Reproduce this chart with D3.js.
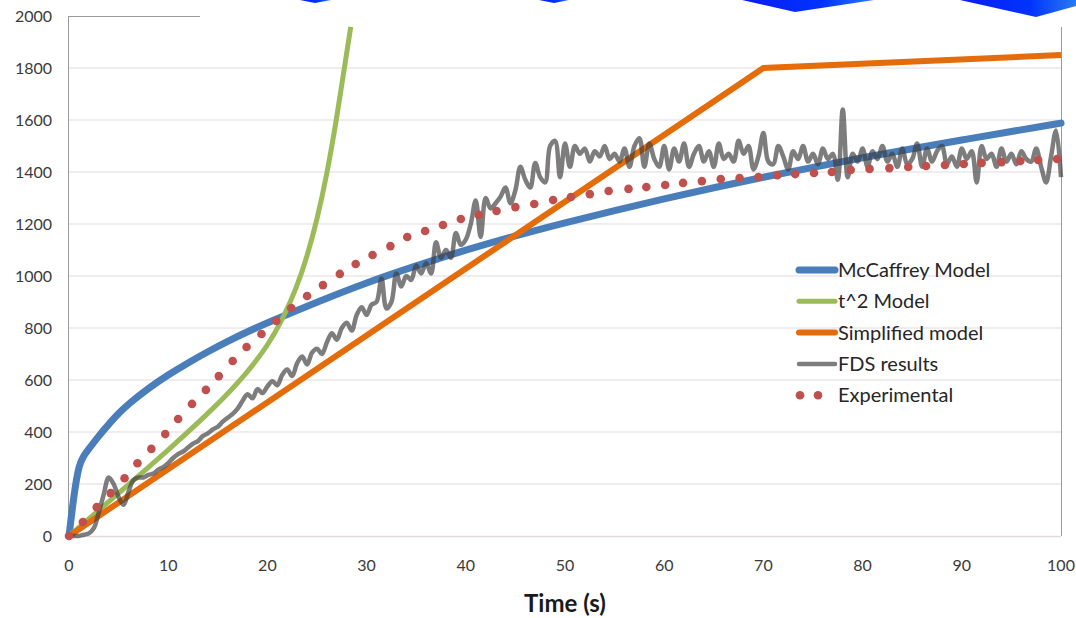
<!DOCTYPE html>
<html>
<head>
<meta charset="utf-8">
<script src="https://cdn.jsdelivr.net/npm/d3@7"></script>
<style>
  body { margin: 0; background: #fff; }
  svg { display: block; }
</style>
</head>
<body>
<div id="chart"></div>
<script>
// data
var xTicks = [0, 10, 20, 30, 40, 50, 60, 70, 80, 90, 100],
    yTicks = [0, 200, 400, 600, 800, 1000, 1200, 1400, 1600, 1800, 2000];

var mcTime = [0, 0.5, 1, 1.5, 2, 3, 4, 5, 6, 8, 10, 12, 14, 16, 18, 20, 25, 30, 35, 40, 45, 50, 55, 60, 65, 70, 75, 80, 85, 90, 95, 100],
    mcHrr  = [0, 160, 275, 310, 335, 385, 430, 472, 508, 568, 620, 666, 709, 749, 786, 820, 900, 975, 1040, 1100, 1155, 1205, 1252, 1297, 1340, 1380, 1418, 1455, 1490, 1523, 1556, 1588];

var t2Time = [0, 5, 10, 15, 18, 20, 21.5, 23, 24, 25, 26, 27, 27.8, 28.4],
    t2Hrr  = [0, 165, 330, 505, 630, 730, 830, 960, 1075, 1215, 1390, 1610, 1810, 1958];

var simpTime = [0, 70, 100],
    simpHrr  = [0, 1800, 1850];

var fdsTime = d3.range(0, 100.5, 0.5),
    fdsHrr = [
      0, 0, 0, 5, 10, 30, 90, 160, 225, 200, 150, 120, 170, 215, 225, 225, 235, 240, 255, 265,
      280, 300, 315, 325, 340, 355, 365, 385, 395, 410, 420, 440, 455, 470, 490, 520, 545, 530, 565, 550,
      575, 595, 580, 620, 640, 615, 665, 690, 660, 705, 720, 700, 745, 780, 755, 800, 820, 790, 850, 880,
      850, 890, 900, 990, 875, 900, 1010, 960, 1000, 985, 1040, 1010, 1050, 1010, 1130, 1070, 1100, 1070, 1165, 1120,
      1140, 1200, 1290, 1150, 1300, 1260, 1280, 1305, 1340, 1280, 1330, 1420, 1370, 1340, 1435, 1380, 1360, 1500, 1520, 1380,
      1510, 1420, 1500, 1470, 1490, 1440, 1480, 1460, 1500, 1450, 1470, 1440, 1490, 1420, 1500, 1530, 1420, 1510, 1450, 1420,
      1500, 1410, 1490, 1440, 1510, 1420, 1470, 1500, 1440, 1480, 1420, 1510, 1450, 1470, 1440, 1520, 1470, 1500, 1410, 1460,
      1550, 1440, 1430, 1500, 1460, 1410, 1480, 1450, 1500, 1440, 1470, 1430, 1490, 1450, 1470, 1370, 1640, 1380, 1470, 1440,
      1490, 1420, 1480, 1450, 1500, 1440, 1470, 1420, 1490, 1430, 1450, 1510, 1420, 1490, 1440, 1480, 1500, 1430, 1460, 1420,
      1490, 1450, 1480, 1360, 1500, 1450, 1470, 1420, 1490, 1440, 1470, 1430, 1480, 1450, 1440, 1490, 1420, 1360, 1460, 1560,
      1380
    ];

var expTime = [0, 1.4, 2.8, 4.2, 5.6, 6.9, 8.3, 9.7, 11, 12.4, 13.8, 15.1, 16.5, 17.9, 19.4, 20.9, 22.4, 24, 25.6, 27.3,
               28.9, 30.6, 32.4, 34.1, 35.9, 37.7, 39.5, 41.3, 43.1, 45, 46.9, 48.8, 50.6, 52.5, 54.4, 56.4, 58.2, 60.1, 61.9, 63.8,
               65.7, 67.6, 69.5, 71.4, 73.2, 75.1, 76.9, 78.8, 80.7, 82.7, 84.6, 86.4, 88.3, 90.2, 92, 94, 95.9, 97.7, 99.6],
    expHrr  = [0, 54, 111, 165, 222, 280, 335, 392, 450, 508, 562, 615, 673, 727, 777, 827, 877, 923, 965, 1008,
               1046, 1081, 1115, 1150, 1173, 1196, 1219, 1235, 1250, 1265, 1277, 1292, 1304, 1315, 1327, 1335, 1342, 1350, 1358, 1365,
               1373, 1377, 1381, 1388, 1392, 1396, 1400, 1408, 1412, 1415, 1419, 1423, 1427, 1431, 1435, 1438, 1442, 1446, 1450];

var legendNames = ["McCaffrey Model", "t^2 Model", "Simplified model", "FDS results", "Experimental"];

// layout
var W = 1076, H = 618;
var area = { l: 69, r: 1061, t: 16, b: 536 },
    color = {
      mc: "#4a7ebb",
      t2: "#9bbb59",
      simp: "#e46c0a",
      fds: "#404040",
      exp: "#c0504d",
      grid: "#e3d9dc",
      axis: "#9a9a9a",
      tick: "#3a3a3a"
    },
    font = "Lato, 'Open Sans', sans-serif";

var x = d3.scaleLinear().domain([0, 100]).range([area.l, area.r]),
    y = d3.scaleLinear().domain([0, 2000]).range([area.b, area.t]);

var svg = d3.select("#chart").append("svg").attr("width", W).attr("height", H);

// blue slide decoration cut off at the top
var defs = svg.append("defs");
var grad = defs.append("linearGradient").attr("id", "deco").attr("x1", 0).attr("y1", 0).attr("x2", 1).attr("y2", 0);
grad.append("stop").attr("offset", "0%").attr("stop-color", "#0a1cf0");
grad.append("stop").attr("offset", "60%").attr("stop-color", "#0033ff");
grad.append("stop").attr("offset", "100%").attr("stop-color", "#2a7af0");
var deco = [
  [[300, 0], [315, 3], [331, 0]],
  [[539, 0], [554, 3], [569, 0]],
  [[742, 0], [795, 12], [874, 0]],
  [[960, 0], [1036, 17], [1076, 6], [1076, 0]]
];
svg.selectAll(".deco").data(deco).enter().append("path").attr("class", "deco")
   .attr("d", function(d) { return d3.line()(d) + "Z"; })
   .attr("fill", "url(#deco)");

// gridlines (top one only partly visible in the source)
svg.append("g").selectAll("line").data(yTicks.filter(function(v) { return v > 0 && v < 2000; })).enter().append("line")
   .attr("x1", area.l).attr("x2", area.r)
   .attr("y1", function(d) { return y(d); }).attr("y2", function(d) { return y(d); })
   .attr("stroke", color.grid).attr("stroke-width", 1);
svg.append("line").attr("x1", area.l).attr("x2", area.r).attr("y1", y(0) + 0.5).attr("y2", y(0) + 0.5)
   .attr("stroke", color.grid).attr("stroke-width", 1.5);
svg.append("line").attr("x1", area.l).attr("x2", 200).attr("y1", y(2000) + 0.5).attr("y2", y(2000) + 0.5)
   .attr("stroke", color.axis).attr("stroke-width", 1);
svg.append("line").attr("x1", area.l - 0.5).attr("x2", area.l - 0.5).attr("y1", y(2000)).attr("y2", y(0))
   .attr("stroke", color.axis).attr("stroke-width", 1);
svg.append("line").attr("x1", area.r + 0.5).attr("x2", area.r + 0.5).attr("y1", 27).attr("y2", y(0))
   .attr("stroke", color.axis).attr("stroke-width", 1);

// tick labels
svg.append("g").selectAll("text").data(yTicks).enter().append("text")
   .attr("x", 52).attr("y", function(d) { return y(d); }).attr("dy", "0.35em")
   .attr("text-anchor", "end").attr("font-family", font).attr("font-size", 16).attr("fill", color.tick)
   .text(function(d) { return d; });
svg.append("g").selectAll("text").data(xTicks).enter().append("text")
   .attr("x", function(d) { return x(d); }).attr("y", 565).attr("dy", "0.35em")
   .attr("text-anchor", "middle").attr("font-family", font).attr("font-size", 16).attr("fill", color.tick)
   .text(function(d) { return d; });
svg.append("text").attr("x", 565).attr("y", 612).attr("text-anchor", "middle")
   .attr("font-family", font).attr("font-size", 24).attr("font-weight", "bold").attr("fill", "#1a1a1a")
   .text("Time (s)");

// series
function pairs(ts, vs) {
  return ts.map(function(t, i) { return [t, vs[i]]; });
}
var line = d3.line().x(function(d) { return x(d[0]); }).y(function(d) { return y(d[1]); });

svg.append("path").datum(pairs(mcTime, mcHrr)).attr("fill", "none").attr("stroke", color.mc).attr("stroke-width", 7)
   .attr("stroke-linecap", "round").attr("d", line.curve(d3.curveBasis));
svg.append("path").datum(pairs(t2Time, t2Hrr)).attr("fill", "none").attr("stroke", color.t2).attr("stroke-width", 5)
   .attr("d", line.curve(d3.curveBasis));
svg.append("path").datum(pairs(simpTime, simpHrr)).attr("fill", "none").attr("stroke", color.simp).attr("stroke-width", 6)
   .attr("d", line.curve(d3.curveLinear));
svg.append("path").datum(pairs(fdsTime, fdsHrr)).attr("fill", "none").attr("stroke", color.fds).attr("stroke-width", 4.5)
   .attr("stroke-opacity", 0.68).attr("stroke-linejoin", "round").attr("d", line.curve(d3.curveCatmullRom));
svg.append("g").selectAll("circle").data(pairs(expTime, expHrr)).enter().append("circle")
   .attr("cx", function(d) { return x(d[0]); }).attr("cy", function(d) { return y(d[1]); })
   .attr("r", 4.3).attr("fill", color.exp);

// legend
var lgColors = [color.mc, color.t2, color.simp, color.fds, color.exp],
    lgWidths = [7, 5, 6, 4.5, 0];
var lg = svg.append("g").attr("transform", "translate(797, 270)");
legendNames.forEach(function(name, i) {
  var row = lg.append("g").attr("transform", "translate(0," + (i * 31.3) + ")");
  if (i < 4) {
    row.append("line").attr("x1", 2).attr("x2", 38).attr("y1", 0).attr("y2", 0)
       .attr("stroke", lgColors[i]).attr("stroke-width", lgWidths[i]).attr("stroke-linecap", "round")
       .attr("stroke-opacity", i == 3 ? 0.68 : 1);
  } else {
    row.append("circle").attr("cx", 3).attr("cy", 0).attr("r", 4.3).attr("fill", lgColors[i]);
    row.append("circle").attr("cx", 21).attr("cy", 0).attr("r", 4.3).attr("fill", lgColors[i]);
  }
  row.append("text").attr("x", 41).attr("y", 0).attr("dy", "0.35em")
     .attr("font-family", font).attr("font-size", 20).attr("fill", "#262626")
     .text(name);
});
</script>
</body>
</html>
